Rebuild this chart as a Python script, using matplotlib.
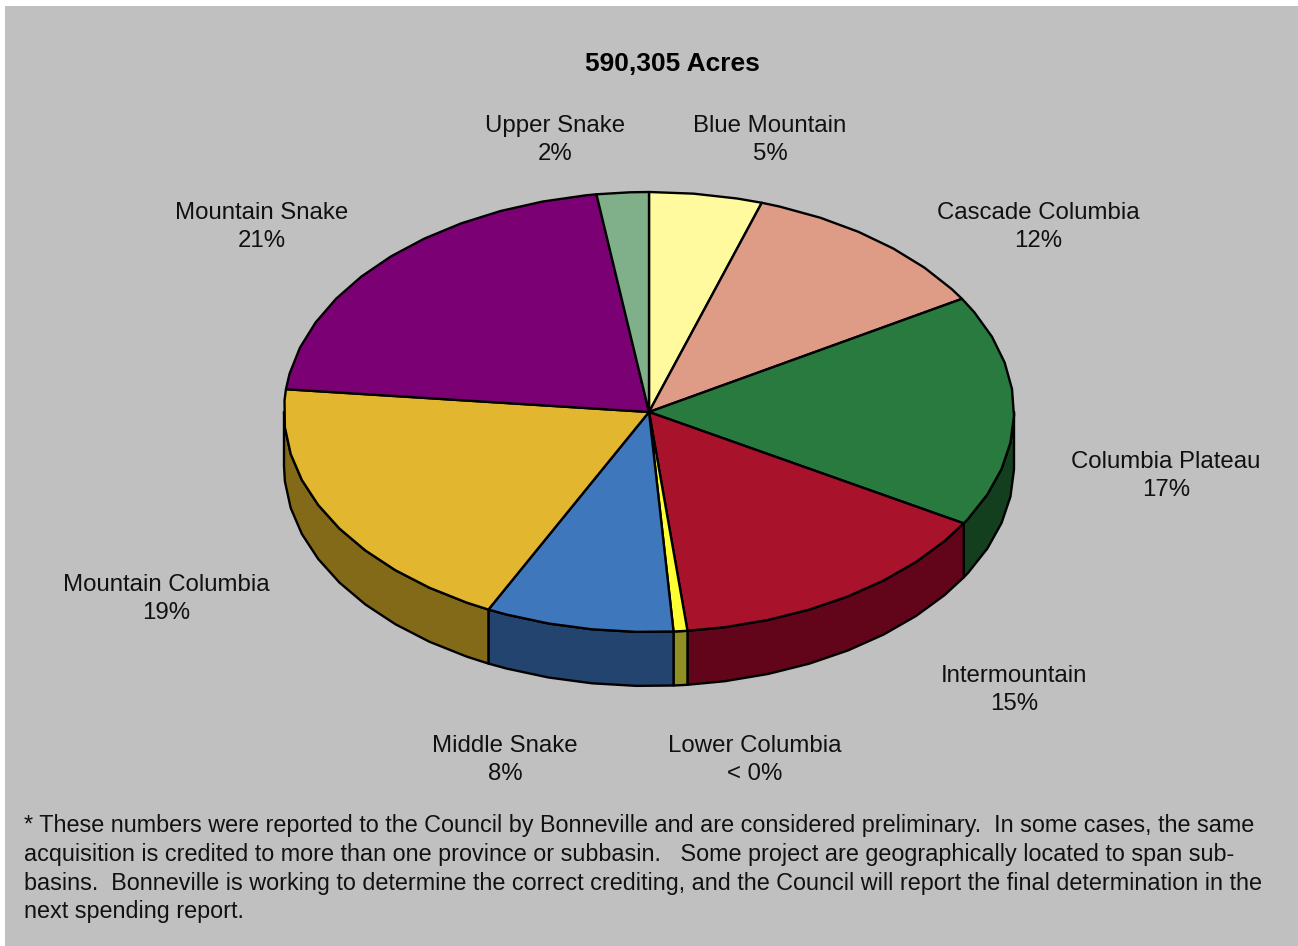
import numpy as np
import matplotlib
matplotlib.use('Agg')
import matplotlib.pyplot as plt
from matplotlib.patches import Polygon, Rectangle

plt.rcParams['font.family'] = ['Liberation Sans', 'DejaVu Sans']

# clockwise from 12 o'clock
regions = ['Blue Mountain', 'Cascade Columbia', 'Columbia Plateau', 'Intermountain',
           'Lower Columbia', 'Middle Snake', 'Mountain Columbia', 'Mountain Snake', 'Upper Snake']
shares = [5.0, 11.4, 17.05, 14.87, 0.61, 8.32, 19.4, 21.05, 2.3]
share_labels = ['5%', '12%', '17%', '15%', '< 0%', '8%', '19%', '21%', '2%']
top_colors = ['#FFFA9E', '#DE9C86', '#297A3E', '#A8122B', '#FFFF33',
              '#3F77BC', '#E2B62E', '#7A0074', '#7FB089']
side_colors = ['#807C4F', '#6F4E43', '#143F1F', '#62051A', '#8F8F24',
               '#23446E', '#826A18', '#3D003A', '#405845']
label_xy = [(770, 140), (1038, 227), (1166, 476), (1014, 690), (755, 760),
            (505, 760), (166, 599), (262, 227), (555, 140)]

title = '590,305 Acres'
footnote = [
    '* These numbers were reported to the Council by Bonneville and are considered preliminary.  In some cases, the same',
    'acquisition is credited to more than one province or subbasin.   Some project are geographically located to span sub-',
    'basins.  Bonneville is working to determine the correct crediting, and the Council will report the final determination in the',
    'next spending report.',
]

CX, CY = 649, 412
RX, RY = 365, 220
DEPTH = 54
STEP = 7


def rim(start, end, drop=0):
    # excel draws the rim as a coarse polygon, keep it that way
    inner = np.arange(np.ceil(start / STEP) * STEP, end, STEP)
    ang = np.radians(np.concatenate([[start], inner, [end]]))
    return np.column_stack([CX + RX * np.sin(ang), CY - RY * np.cos(ang) + drop])


def main():
    fig = plt.figure(figsize=(12.98, 9.46), dpi=100)
    ax = fig.add_axes([0, 0, 1, 1])
    ax.set_xlim(0, 1298)
    ax.set_ylim(946, 0)
    ax.axis('off')
    ax.add_patch(Rectangle((5, 6), 1293, 940, facecolor='#C0C0C0', edgecolor='none'))

    edges = np.cumsum([0] + shares) / sum(shares) * 360

    # front wall, only the part between 3 and 9 o'clock can be seen
    for start, end, color in zip(edges[:-1], edges[1:], side_colors):
        lo, hi = max(start, 90), min(end, 270)
        if lo >= hi:
            continue
        pts = np.vstack([rim(lo, hi), rim(lo, hi, DEPTH)[::-1]])
        ax.add_patch(Polygon(pts, facecolor=color, edgecolor='black', lw=1.7, joinstyle='round'))

    for start, end, color in zip(edges[:-1], edges[1:], top_colors):
        pts = np.vstack([[CX, CY], rim(start, end)])
        ax.add_patch(Polygon(pts, facecolor=color, edgecolor='black', lw=1.7, joinstyle='round'))

    for name, pct, (x, y) in zip(regions, share_labels, label_xy):
        ax.text(x, y, f'{name}\n{pct}', ha='center', va='center', fontsize=17.3,
                linespacing=1.4, color='#111111')

    ax.text(672, 64, title, ha='center', va='center', fontsize=19, fontweight='bold', color='black')
    for y, line in zip([825, 854, 883, 911], footnote):
        ax.text(24, y, line, ha='left', va='center', fontsize=16.87, color='#111111')

    fig.savefig('out.png', dpi=100)


if __name__ == '__main__':
    main()
